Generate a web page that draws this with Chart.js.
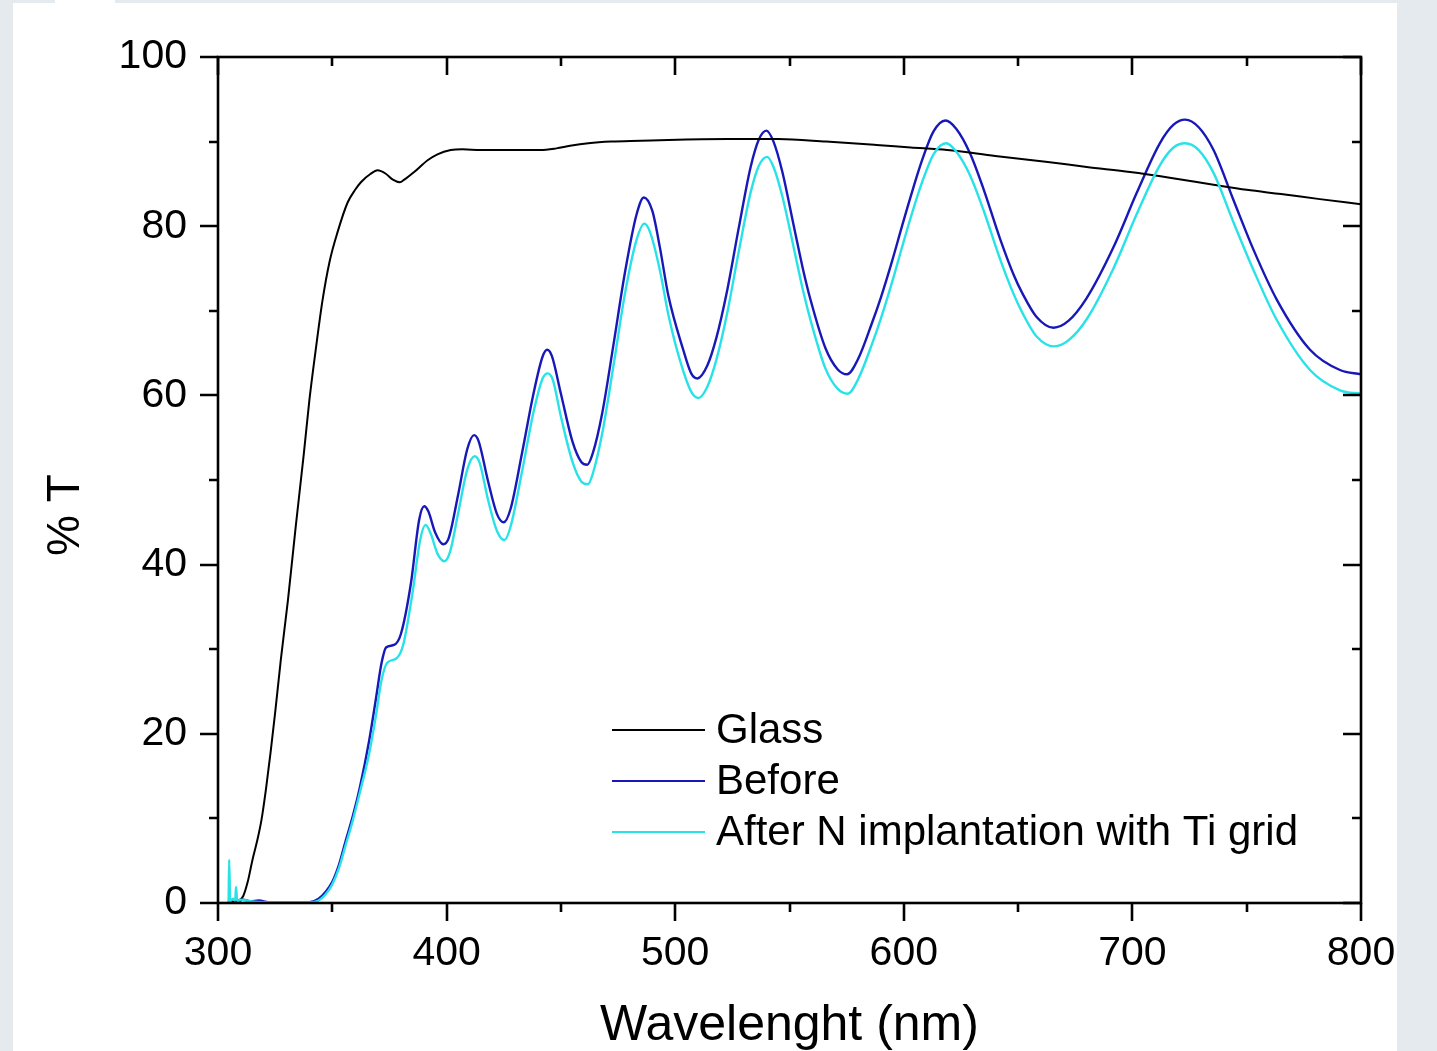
<!DOCTYPE html>
<html lang="en">
<head>
  <meta charset="UTF-8" />
  <title>% T vs Wavelenght</title>
  <script src="https://cdn.jsdelivr.net/npm/chart.js"></script>
  <style>
    html, body {
      margin: 0;
      padding: 0;
    }
    body {
      width: 1437px;
      height: 1051px;
      background: #e5eaef;
      position: relative;
      overflow: hidden;
    }
    #panel {
      position: absolute;
      left: 13px;
      top: 3px;
      width: 1384px;
      height: 1048px;
      background: #ffffff;
    }
    #notch {
      position: absolute;
      left: 55px;
      top: 0;
      width: 60px;
      height: 3px;
      background: #ffffff;
    }
    #chart-container {
      position: absolute;
      left: 0;
      top: 0;
      width: 1437px;
      height: 1051px;
    }
  </style>
</head>
<body>
  <div id="panel"></div>
  <div id="notch"></div>
  <div id="chart-container">
    <canvas id="lineChart" width="1437" height="1051"></canvas>
  </div>

  <script>
    // Transmission spectra: wavelength (nm) and % T for each sample
    const glassNm = [305, 309, 311, 313, 315, 317, 319, 321, 323, 325,
      327.5, 330.6, 334, 337.5, 340, 342.8, 345.7, 348.8, 352.3, 356.7,
      360, 362.5, 366.8, 369.8, 373.4, 376.5, 379.5, 381.5, 385.8, 391.7,
      396, 401.8, 407, 415, 425, 441, 448, 454, 462, 472,
      485, 497, 523, 545, 566, 588, 603, 619, 640, 663,
      680, 699, 717, 735.5, 750, 765, 782, 800];
    const glassT = [0.1, 0.3, 0.8, 2.5, 5, 7.2, 9.8, 13.5, 17.8, 22.5,
      28.8, 35.8, 44.5, 53, 59.5, 65.5, 71.2, 75.8, 79.3, 82.8,
      84.3, 85.2, 86.2, 86.6, 86.2, 85.5, 85.2, 85.5, 86.4, 87.8,
      88.5, 89.0, 89.1, 89.0, 89.0, 89.0, 89.2, 89.5, 89.8, 90.0,
      90.1, 90.2, 90.3, 90.3, 90.0, 89.6, 89.3, 89.0, 88.3, 87.6,
      87.0, 86.4, 85.7, 84.9, 84.3, 83.8, 83.2, 82.6];

    const beforeNm = [305, 308, 311, 314, 318, 322, 330, 340, 344, 347,
      350, 353, 356, 359, 362, 366, 369, 371.5, 373.5, 377,
      380, 384.4, 388, 390.2, 392, 395, 398.5, 401, 405, 409,
      412, 414, 418, 422, 425, 428, 433, 438, 442, 444,
      446, 450, 455, 459, 461.5, 464, 468, 473, 478, 483,
      486.3, 490, 493.3, 497, 503.5, 507, 509.7, 514, 518, 522.8,
      527.8, 533, 536.5, 539.9, 543, 546.8, 551.9, 556, 559.2, 565.7,
      571, 575.2, 580, 586, 590, 595, 599, 603, 608, 613,
      618.2, 623, 629, 635, 642, 648, 652, 658, 665.5, 672,
      680, 691.7, 702, 712, 718, 723.1, 729, 735.5, 744.2, 753,
      763.2, 777.7, 790.8, 800];
    const beforeT = [0.2, 0.1, 0.4, 0.2, 0.3, 0.1, 0.1, 0.1, 0.5, 1.3,
      2.5, 4.6, 7.5, 10.3, 13.6, 19, 24, 28.3, 30.2, 30.5,
      31.8, 37.8, 45.3, 46.9, 46.3, 43.8, 42.4, 43.2, 48.2, 53.6,
      55.3, 54.6, 50, 46, 45, 46.6, 53.2, 60.2, 64.6, 65.4,
      64.7, 60.2, 54.6, 52.1, 51.8, 53.2, 57.8, 66, 74.5, 81.3,
      83.4, 81.8, 77.5, 71.8, 65.4, 62.6, 62.0, 63.5, 66.8, 72.5,
      79.8, 87.0, 90.2, 91.3, 90.0, 86.5, 80, 74.8, 71.3, 65.6,
      63.1, 62.5, 64.3, 68.5, 71.6, 76, 79.8, 83.5, 87.8, 91.2,
      92.5, 91.5, 88.6, 84.3, 78.6, 74.3, 72, 69.3, 68.0, 68.8,
      71.5, 77.5, 84, 89.8, 92, 92.6, 91.7, 89, 83.1, 77.2,
      71.3, 65.4, 63.0, 62.5];

    const afterNm = [304, 304.6, 304.9, 305.3, 306.5, 307.5, 307.9, 308.4, 310, 314,
      320, 330, 340, 344, 347, 350, 353, 356, 359, 362,
      366, 369, 371.5, 374, 378, 381, 385, 388.5, 390.8, 393,
      396, 399, 401.5, 405, 409, 412.3, 414.5, 418, 422, 425.3,
      428, 433, 438, 442, 444.3, 446.5, 450, 455, 459, 461.8,
      464, 468, 473, 478, 483, 486.5, 489, 493.3, 497.2, 503.5,
      507.5, 510.2, 514, 518, 522.8, 527.8, 533, 536.5, 540.2, 543,
      546.8, 551.9, 556, 559.2, 565.7, 571, 575.5, 580, 586, 590,
      595, 599, 603, 608, 613, 618.5, 623, 629, 635, 642,
      648, 652, 658, 665.8, 672, 680, 691.7, 702, 712, 718,
      723, 729, 735.5, 744, 753, 763, 777.7, 790.8, 800];
    const afterT = [0.1, 0.2, 5.1, 0.2, 0.5, 0.3, 1.9, 0.2, 0.4, 0.2,
      0.1, 0.1, 0.1, 0.3, 1.0, 2.2, 4.2, 7, 9.8, 13,
      17.5, 22, 26.3, 28.4, 28.9, 30.5, 36.5, 43, 44.7, 43.7,
      41.3, 40.4, 41.5, 46, 51.2, 52.8, 52, 47.8, 44, 42.9,
      44.5, 51, 58, 62, 62.6, 61.8, 57.5, 52.2, 49.8, 49.5,
      50.8, 55.4, 63.5, 72, 78.3, 80.3, 79.3, 74.8, 69.3, 62.9,
      60.2, 59.7, 61.0, 64.2, 69.8, 77.0, 84, 87.1, 88.2, 87.0,
      83.6, 77.4, 72.3, 68.9, 63.2, 60.8, 60.2, 61.9, 66.0, 69.1,
      73.5, 77.3, 81.0, 85.2, 88.5, 89.8, 88.8, 86.0, 81.8, 76.2,
      72.0, 69.7, 67.0, 65.8, 66.5, 69, 75, 81.5, 87.2, 89.3,
      89.8, 89, 86.3, 80.6, 74.8, 69, 63, 60.6, 60.2];

    const seriesLabels = ['Glass', 'Before', 'After N implantation with Ti grid'];
    const seriesColors = ['#000000', '#1818b8', '#28e2e8'];

    const xMin = 300, xMax = 800, xMajor = 100, xMinor = 50;
    const yMin = 0, yMax = 100, yMajor = 20, yMinor = 10;
    const xTitle = 'Wavelenght (nm)';
    const yTitle = '% T';

    const fontFamily = "'Liberation Sans', Arial, sans-serif";

    function toPoints(xs, ys) {
      return xs.map((x, i) => ({ x: x, y: ys[i] }));
    }

    // box frame with Origin style ticks: out on left/bottom, in on top/right
    const frameTicks = {
      id: 'frameTicks',
      afterDraw(chart) {
        const { ctx, chartArea: a, scales: { x, y } } = chart;
        ctx.save();
        ctx.strokeStyle = '#000';
        ctx.lineWidth = 2.6;
        ctx.lineCap = 'butt';
        ctx.strokeRect(a.left, a.top, a.right - a.left, a.bottom - a.top);

        ctx.beginPath();
        for (let v = xMin; v <= xMax; v += xMinor) {
          const px = Math.round(x.getPixelForValue(v));
          const len = v % xMajor === 0 ? 18 : 9;
          ctx.moveTo(px, a.bottom);
          ctx.lineTo(px, a.bottom + len);
          ctx.moveTo(px, a.top);
          ctx.lineTo(px, a.top + len);
        }
        for (let v = yMin; v <= yMax; v += yMinor) {
          const py = Math.round(y.getPixelForValue(v));
          const len = v % yMajor === 0 ? 18 : 9;
          ctx.moveTo(a.left - len, py);
          ctx.lineTo(a.left, py);
          ctx.moveTo(a.right - len, py);
          ctx.lineTo(a.right, py);
        }
        ctx.stroke();

        // y axis title sits a little below the middle of the axis
        ctx.fillStyle = '#000';
        ctx.font = '46px ' + fontFamily;
        ctx.textAlign = 'center';
        ctx.textBaseline = 'middle';
        ctx.translate(66, 515);
        ctx.rotate(-Math.PI / 2);
        ctx.fillText(yTitle, 0, 0);
        ctx.restore();
      }
    };

    // legend inside the plot, lower right
    const insideLegend = {
      id: 'insideLegend',
      afterDraw(chart) {
        const { ctx, chartArea: a } = chart;
        const x0 = a.left + 394;
        const y0 = a.top + 673;
        ctx.save();
        ctx.font = '42px ' + fontFamily;
        ctx.textBaseline = 'middle';
        ctx.textAlign = 'left';
        chart.data.datasets.forEach((ds, i) => {
          const yy = y0 + i * 51;
          ctx.strokeStyle = ds.borderColor;
          ctx.lineWidth = 2;
          ctx.beginPath();
          ctx.moveTo(x0, yy);
          ctx.lineTo(x0 + 93, yy);
          ctx.stroke();
          ctx.fillStyle = '#000';
          ctx.fillText(ds.label, x0 + 104, yy + 1);
        });
        ctx.restore();
      }
    };

    const ctx = document.getElementById('lineChart').getContext('2d');

    const chart = new Chart(ctx, {
      type: 'line',
      data: {
        datasets: [
          { label: seriesLabels[0], data: toPoints(glassNm, glassT), borderColor: seriesColors[0], borderWidth: 2, order: 1 },
          { label: seriesLabels[1], data: toPoints(beforeNm, beforeT), borderColor: seriesColors[1], borderWidth: 2.4, order: 2 },
          { label: seriesLabels[2], data: toPoints(afterNm, afterT), borderColor: seriesColors[2], borderWidth: 2.4, order: 0 }
        ]
      },
      options: {
        responsive: false,
        animation: false,
        devicePixelRatio: 1,
        layout: {
          padding: { top: 57, right: 76, bottom: 0, left: 0 }
        },
        elements: {
          point: { radius: 0 },
          line: { cubicInterpolationMode: 'monotone', fill: false }
        },
        plugins: {
          legend: { display: false },
          tooltip: { enabled: false }
        },
        scales: {
          x: {
            type: 'linear',
            min: xMin,
            max: xMax,
            grid: { display: false },
            border: { display: false },
            ticks: {
              stepSize: xMajor,
              padding: 18,
              color: '#000',
              font: { family: fontFamily, size: 41 }
            },
            title: {
              display: true,
              text: xTitle,
              color: '#000',
              font: { family: fontFamily, size: 50, lineHeight: 1 },
              padding: { top: 0, bottom: 0 }
            },
            afterFit: scale => { scale.height = 148; }
          },
          y: {
            type: 'linear',
            min: yMin,
            max: yMax,
            grid: { display: false },
            border: { display: false },
            ticks: {
              stepSize: yMajor,
              padding: 23,
              color: '#000',
              font: { family: fontFamily, size: 41 }
            },
            afterFit: scale => { scale.width = 218; }
          }
        }
      },
      plugins: [frameTicks, insideLegend]
    });
  </script>
</body>
</html>
